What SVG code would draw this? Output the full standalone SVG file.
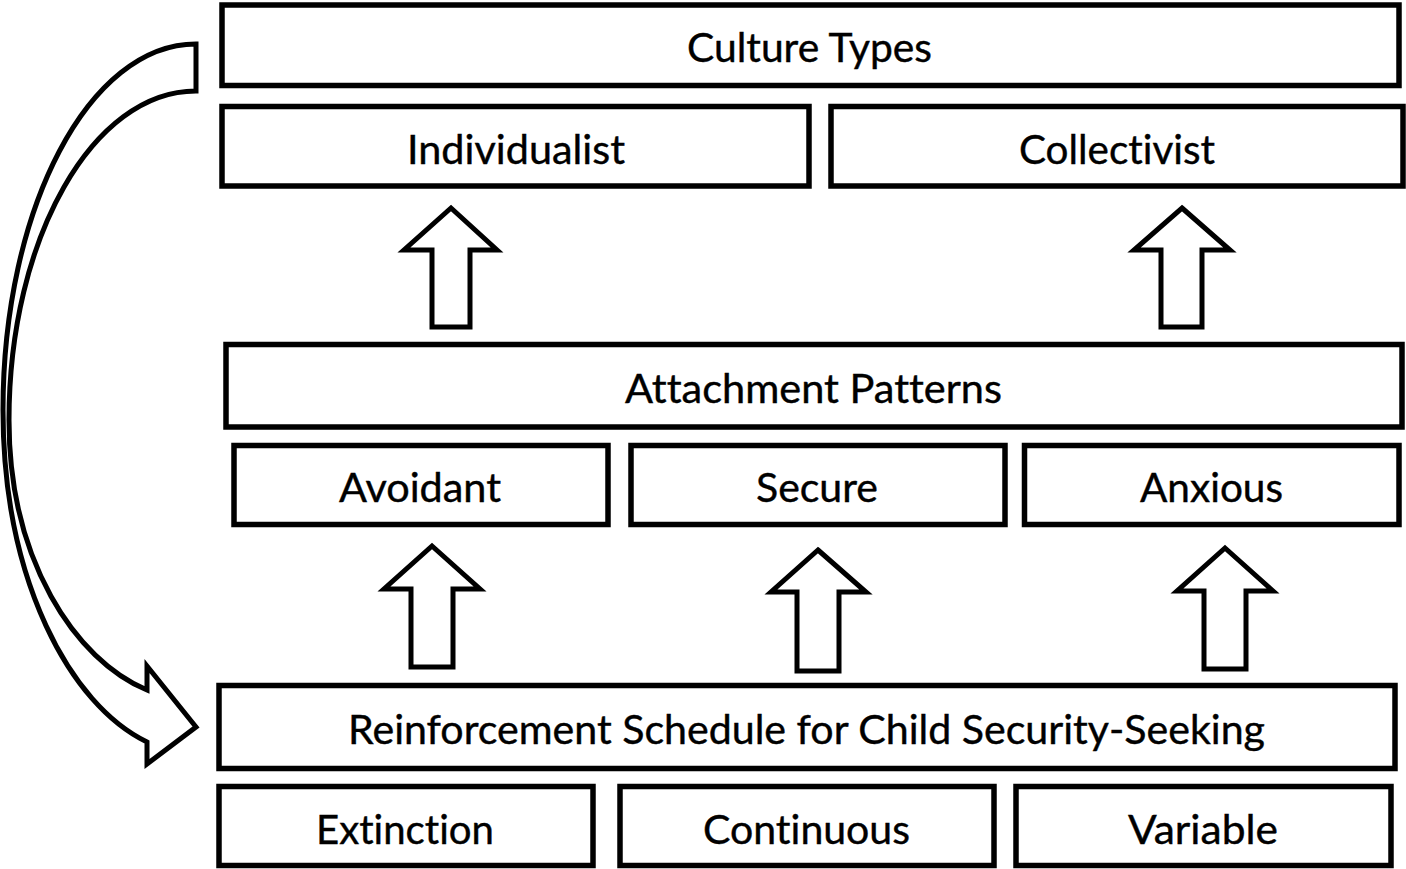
<svg xmlns="http://www.w3.org/2000/svg" width="1406" height="869" viewBox="0 0 1406 869">
<style>
.box{fill:#fff;stroke:#000;stroke-width:5.5}
.arr{fill:#fff;stroke:#000;stroke-width:5;stroke-linejoin:miter}
.lbl{font-family:Lato,"Open Sans","Liberation Sans",sans-serif;font-size:40px;fill:#000;text-anchor:middle;font-variant-ligatures:none;stroke:#000;stroke-width:0.4}
</style>
<rect width="1406" height="869" fill="#fff"/>
<g id="connectors">
<path class="arr" d="M196,44 L196,91 C93,91 9,238 9,420 C9,560 75,660 147,690 L147,666 L196,727 L147,764 L147,742 C70,705 3,580 3,410 C3,208 89,44 196,44 Z"/>
<path class="arr" d="M451,208 L497,250 L470,250 L470,327 L432,327 L432,250 L404,250 Z"/>
<path class="arr" d="M1182,208 L1230,250 L1202,250 L1202,327 L1161,327 L1161,250 L1134,250 Z"/>
<path class="arr" d="M432,546 L480,589 L453,589 L453,667 L411,667 L411,589 L384,589 Z"/>
<path class="arr" d="M818,550 L866,592 L839,592 L839,671 L797,671 L797,592 L771,592 Z"/>
<path class="arr" d="M1225,548 L1273,591 L1246,591 L1246,669 L1204,669 L1204,591 L1177,591 Z"/>
</g>
<g id="culture-types"><rect class="box" x="222" y="5" width="1177" height="80.5"/><text class="lbl" x="809.5" y="62" textLength="245" lengthAdjust="spacingAndGlyphs">Culture Types</text></g>
<g id="individualist"><rect class="box" x="222" y="106.5" width="587" height="79.5"/><text class="lbl" x="516" y="164" textLength="218" lengthAdjust="spacingAndGlyphs">Individualist</text></g>
<g id="collectivist"><rect class="box" x="831" y="106.5" width="572" height="79.5"/><text class="lbl" x="1117" y="164" textLength="196" lengthAdjust="spacingAndGlyphs">Collectivist</text></g>
<g id="attachment-patterns"><rect class="box" x="226" y="344.5" width="1176" height="82.5"/><text class="lbl" x="813.5" y="403" textLength="377" lengthAdjust="spacingAndGlyphs">Attachment Patterns</text></g>
<g id="avoidant"><rect class="box" x="234" y="445.5" width="374" height="79"/><text class="lbl" x="420" y="502" textLength="162" lengthAdjust="spacingAndGlyphs">Avoidant</text></g>
<g id="secure"><rect class="box" x="631" y="445.5" width="374" height="79"/><text class="lbl" x="817" y="502" textLength="122" lengthAdjust="spacingAndGlyphs">Secure</text></g>
<g id="anxious"><rect class="box" x="1024.5" y="445.5" width="374.5" height="79"/><text class="lbl" x="1211.5" y="502" textLength="143" lengthAdjust="spacingAndGlyphs">Anxious</text></g>
<g id="reinforcement-schedule"><rect class="box" x="219" y="685.5" width="1176" height="83"/><text class="lbl" x="806.5" y="744" textLength="917" lengthAdjust="spacingAndGlyphs">Reinforcement Schedule for Child Security-Seeking</text></g>
<g id="extinction"><rect class="box" x="219" y="786.5" width="374" height="79"/><text class="lbl" x="405" y="844" textLength="178" lengthAdjust="spacingAndGlyphs">Extinction</text></g>
<g id="continuous"><rect class="box" x="620" y="786.5" width="374" height="79"/><text class="lbl" x="806.5" y="844" textLength="207" lengthAdjust="spacingAndGlyphs">Continuous</text></g>
<g id="variable"><rect class="box" x="1016" y="786.5" width="375" height="79"/><text class="lbl" x="1203" y="844" textLength="150" lengthAdjust="spacingAndGlyphs">Variable</text></g>
</svg>
